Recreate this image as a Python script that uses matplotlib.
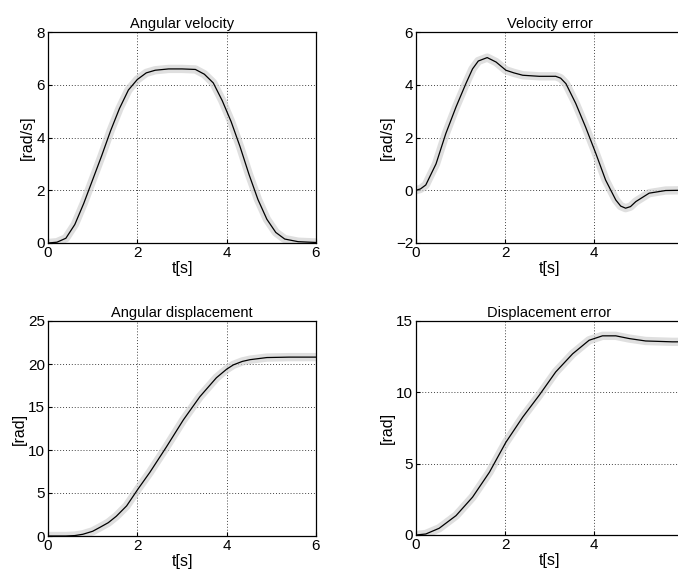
import numpy as np
import matplotlib
matplotlib.use("Agg")
import matplotlib.pyplot as plt

plt.rcParams['font.family'] = ['Liberation Sans', 'DejaVu Sans']
plt.rcParams['font.size'] = 10

# angular velocity [rad/s]
t_vel = [0, 0.2, 0.4, 0.6, 0.8, 1.0, 1.2, 1.4, 1.6, 1.8, 2.0, 2.2, 2.4, 2.7, 3.0, 3.3,
         3.5, 3.7, 3.9, 4.1, 4.3, 4.5, 4.7, 4.9, 5.1, 5.3, 5.6, 6.0]
vel = [0, 0.03, 0.18, 0.7, 1.5, 2.4, 3.3, 4.25, 5.1, 5.8, 6.2, 6.45, 6.55, 6.6, 6.6, 6.58,
       6.4, 6.07, 5.4, 4.6, 3.65, 2.6, 1.65, 0.9, 0.4, 0.15, 0.05, 0.02]

# velocity error [rad/s]
t_verr = [0, 0.1, 0.22, 0.45, 0.67, 0.9, 1.12, 1.27, 1.4, 1.6, 1.8, 2.02, 2.2, 2.4, 2.77,
          3.14, 3.25, 3.37, 3.59, 3.81, 4.04, 4.26, 4.49, 4.6, 4.71, 4.82, 4.94, 5.24, 5.61, 6.0]
verr = [0, 0.05, 0.2, 1.0, 2.15, 3.16, 4.04, 4.6, 4.9, 5.03, 4.86, 4.55, 4.45, 4.36, 4.32,
        4.32, 4.25, 4.04, 3.29, 2.4, 1.4, 0.39, -0.37, -0.6, -0.68, -0.62, -0.43, -0.11, -0.01, 0]

# angular displacement [rad]
t_disp = [0, 0.4, 0.6, 0.78, 1.0, 1.16, 1.35, 1.53, 1.76, 2.02, 2.28, 2.65, 3.03, 3.4,
          3.77, 4.0, 4.15, 4.35, 4.52, 4.9, 5.4, 6.0]
disp = [0, 0.0, 0.05, 0.2, 0.55, 1.0, 1.55, 2.3, 3.5, 5.5, 7.4, 10.35, 13.5, 16.2,
        18.4, 19.4, 19.9, 20.3, 20.5, 20.75, 20.8, 20.8]

# displacement error [rad]
t_derr = [0, 0.22, 0.52, 0.9, 1.27, 1.65, 2.02, 2.4, 2.77, 3.14, 3.52, 3.89, 4.19,
          4.49, 4.79, 5.16, 5.76, 6.0]
derr = [0, 0.07, 0.47, 1.36, 2.65, 4.4, 6.5, 8.27, 9.8, 11.43, 12.7, 13.65, 13.96,
        13.96, 13.77, 13.6, 13.54, 13.54]

W, H = 678, 578
fig = plt.figure(figsize=(W / 100, H / 100), dpi=100)


def make_ax(left, top, right, bottom):
    return fig.add_axes([left / W, 1 - bottom / H, (right - left) / W, (bottom - top) / H])


# right column runs past the page edge in the scan, so t=6 is not visible there
panels = [
    (make_ax(48, 32, 316, 243), t_vel, vel, 'Angular velocity', '[rad/s]', (0, 8), [0, 2, 4, 6, 8], [0, 2, 4, 6]),
    (make_ax(416, 32, 683, 243), t_verr, verr, 'Velocity error', '[rad/s]', (-2, 6), [-2, 0, 2, 4, 6], [0, 2, 4]),
    (make_ax(48, 321, 316, 536), t_disp, disp, 'Angular displacement', '[rad]', (0, 25), [0, 5, 10, 15, 20, 25], [0, 2, 4, 6]),
    (make_ax(416, 321, 683, 535), t_derr, derr, 'Displacement error', '[rad]', (0, 15), [0, 5, 10, 15], [0, 2, 4]),
]

for ax, t, y, title, ylab, ylim, yt, xt in panels:
    ax.plot(t, y, color='#d2d2d2', lw=6, alpha=0.7, solid_capstyle='round', zorder=2)
    ax.plot(t, y, color='black', lw=0.9, zorder=3)
    ax.set_xlim(0, 6)
    ax.set_ylim(*ylim)
    ax.set_xticks(xt)
    ax.set_yticks(yt)
    ax.grid(True, color='#444444', linestyle=(0, (1, 2)), linewidth=0.7)
    ax.tick_params(direction='in', length=3, labelsize=11, pad=2)
    ax.set_title(title, fontsize=10.5, pad=3)
    ax.set_xlabel('t[s]', fontsize=11.5, labelpad=1)
    ax.set_ylabel(ylab, fontsize=11.5, labelpad=1)
    for s in ax.spines.values():
        s.set_linewidth(0.9)

fig.savefig('out.png', dpi=100)
